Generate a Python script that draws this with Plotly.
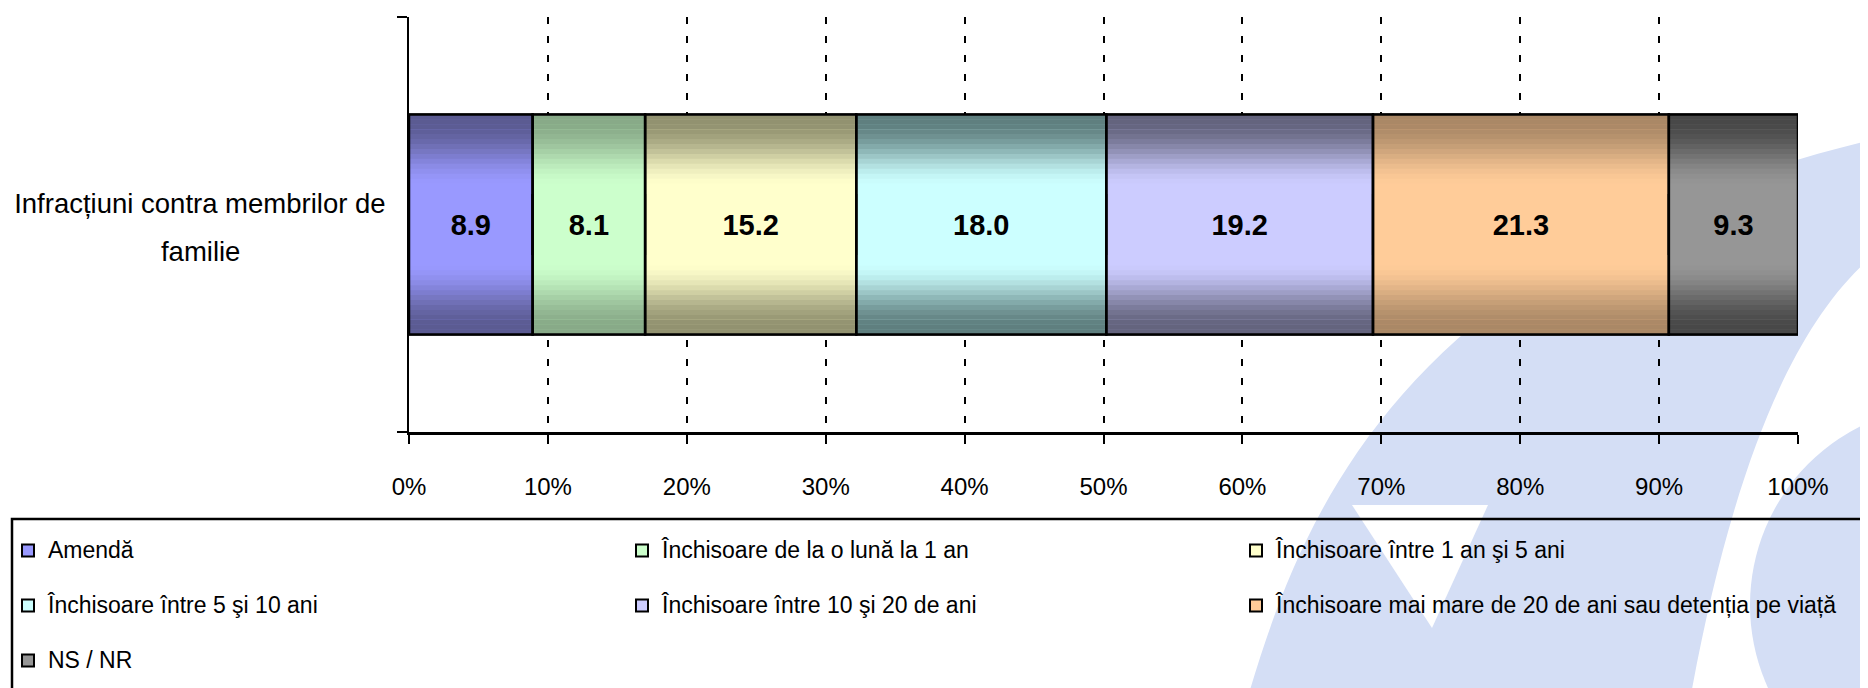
import numpy as np
import plotly.graph_objects as go

# ---------------- data ----------------
CATEGORY = "Infracțiuni contra membrilor de familie"
CATEGORY_LINES = ["Infracțiuni contra membrilor de", "familie"]
SERIES = [
    "Amendă",
    "Închisoare de la o lună la 1 an",
    "Închisoare între 1 an şi 5 ani",
    "Închisoare între 5 şi 10 ani",
    "Închisoare între 10 şi 20 de ani",
    "Închisoare mai mare de 20 de ani sau detenția pe viață",
    "NS / NR",
]
VALUES = [8.9, 8.1, 15.2, 18.0, 19.2, 21.3, 9.3]
X_TICKS = [0, 10, 20, 30, 40, 50, 60, 70, 80, 90, 100]
X_TICK_LABELS = ["0%", "10%", "20%", "30%", "40%", "50%", "60%", "70%", "80%", "90%", "100%"]

# ---------------- style ----------------
CENTER_COLORS = ["#9999FF", "#CCFFCC", "#FFFFCC", "#CCFFFF", "#CCCCFF", "#FFCC99", "#969696"]
EDGE_COLORS = ["#5B5B92", "#88AA88", "#929270", "#5F7F7F", "#64647E", "#AA8866", "#484848"]
FONT = "Liberation Sans, Arial, sans-serif"
WATERMARK = "#D4DEF5"

OFF = 8                      # page offset of the figure (body margin)
W, H = 1860, 680             # figure size so that it fits the 1868x688 window
ML, MR = 0, 0
PLOT_TOP, PLOT_BOTTOM = 17, 432      # page pixels
PLOT_LEFT, PLOT_RIGHT = 409, 1798
MT = PLOT_TOP - OFF
MB = H - (PLOT_BOTTOM - OFF)
GW, GH = W - ML - MR, H - MT - MB


def PX(x):
    return (x - OFF - ML) / GW


def PY(y):
    return (H - MB - (y - OFF)) / GH


def P(x, y):
    return f"{PX(x):.5f},{PY(y):.5f}"


def hex2rgb(h):
    h = h.lstrip("#")
    return np.array([int(h[i:i + 2], 16) for i in (0, 2, 4)], dtype=float)


def mix(c_edge, c_center, s):
    a, b = hex2rgb(c_edge), hex2rgb(c_center)
    c = a + (b - a) * s
    return "rgb(%d,%d,%d)" % tuple(np.round(c).astype(int))


def profile(t):
    x = np.clip((t - 0.06) / (0.66 - 0.06), 0, 1)
    return x * x * (3 - 2 * x)


BAR_W = 0.53
bases = list(np.concatenate([[0.0], np.cumsum(VALUES)[:-1]]))

fig = go.Figure()

# main (centre colour) bars, with labels and legend entries
for name, v, b, c in zip(SERIES, VALUES, bases, CENTER_COLORS):
    fig.add_trace(go.Bar(
        y=[CATEGORY], x=[v], base=[b], orientation="h", width=BAR_W,
        name=f"<span style='font-size:23px'>{name}</span><br>\u00a0",
        marker=dict(color=c, line=dict(width=2, color="black")),
        texttemplate="%{x:.1f}", textposition="inside", insidetextanchor="middle",
        textfont=dict(family=FONT, size=29, color="black", weight="bold"),
        hoverinfo="skip", cliponaxis=False,
    ))

# gradient bands (top and bottom)
M = 16
T = 0.72
half = BAR_W / 2
d = half * T / M
for j in range(M):
    t = (j + 0.5) / M * T
    s = profile(t)
    cols = [mix(e, c, s) for e, c in zip(EDGE_COLORS, CENTER_COLORS)]
    for off in (-half + j * d, half - (j + 1) * d):
        fig.add_trace(go.Bar(
            y=[CATEGORY] * len(VALUES), x=VALUES, base=bases, orientation="h",
            offset=off - 0.0005, width=d + 0.001,
            marker=dict(color=cols, line=dict(width=0)),
            textposition="none", showlegend=False, hoverinfo="skip",
        ))

# outlines
fig.add_trace(go.Bar(
    y=[CATEGORY] * len(VALUES), x=VALUES, base=bases, orientation="h", width=BAR_W,
    marker=dict(color="rgba(0,0,0,0)", line=dict(width=2.5, color="black")),
    textposition="none", showlegend=False, hoverinfo="skip",
))

# watermark logo + legend frame
shapes = [
    dict(type="path", xref="paper", yref="paper", layer="below", line=dict(width=0),
         fillcolor=WATERMARK,
         path=f"M{P(1247,700)} C{P(1300,520)} {P(1400,250)} {P(1880,138)} "
              f"L{P(1880,250)} C{P(1790,320)} {P(1730,480)} {P(1690,700)} Z"),
    dict(type="circle", xref="paper", yref="paper", layer="below", line=dict(width=0),
         fillcolor=WATERMARK, x0=PX(1750), x1=PX(2150), y0=PY(805), y1=PY(405)),
    dict(type="path", xref="paper", yref="paper", layer="below", line=dict(width=0),
         fillcolor="white", path=f"M{P(1352,505)} L{P(1488,505)} L{P(1432,628)} Z"),
    dict(type="rect", xref="paper", yref="paper", layer="above",
         line=dict(width=2.5, color="black"), fillcolor="rgba(0,0,0,0)",
         x0=PX(12), x1=PX(1890), y0=PY(720), y1=PY(519)),
]

nb = "\u00a0" * 19
sp = "<span style='font-size:27.5px'>%s</span>"
ticktext = [sp % CATEGORY_LINES[0] + "<br>" + sp % (CATEGORY_LINES[1] + nb)]

fig.update_layout(
    width=W, height=H,
    margin=dict(l=ML, r=MR, t=MT, b=MB, autoexpand=False),
    paper_bgcolor="white", plot_bgcolor="rgba(0,0,0,0)",
    barmode="overlay",
    font=dict(family=FONT, color="black", size=24),
    shapes=shapes,
    showlegend=True,
    legend=dict(
        orientation="h", x=0, xanchor="left", y=PY(531), yanchor="top",
        borderwidth=0, bgcolor="rgba(0,0,0,0)", valign="top",
        font=dict(family=FONT, size=20, color="black"),
        entrywidth=569, entrywidthmode="pixels", traceorder="normal",
    ),
    xaxis=dict(
        domain=[PX(PLOT_LEFT), PX(PLOT_RIGHT)], range=[0, 100],
        tickmode="array", tickvals=X_TICKS, ticktext=X_TICK_LABELS,
        showgrid=True, gridcolor="black", gridwidth=2, griddash="7px,12px",
        showline=True, linecolor="black", linewidth=3,
        ticks="outside", ticklen=9, tickwidth=2, tickcolor="black",
        zeroline=False, tickfont=dict(family=FONT, size=24, color="black"),
        ticklabelstandoff=22, fixedrange=True,
    ),
    yaxis=dict(
        type="category", range=[-0.5, 0.5],
        tickmode="array", tickvals=[CATEGORY], ticktext=ticktext,
        showline=True, linecolor="black", linewidth=2,
        ticks="outside", tickson="boundaries", ticklen=10, tickwidth=2, tickcolor="black",
        showgrid=False, zeroline=False,
        tickfont=dict(family=FONT, size=37, color="black"),
        ticklabelstandoff=14, fixedrange=True,
    ),
)

fig.write_html("out.html")
